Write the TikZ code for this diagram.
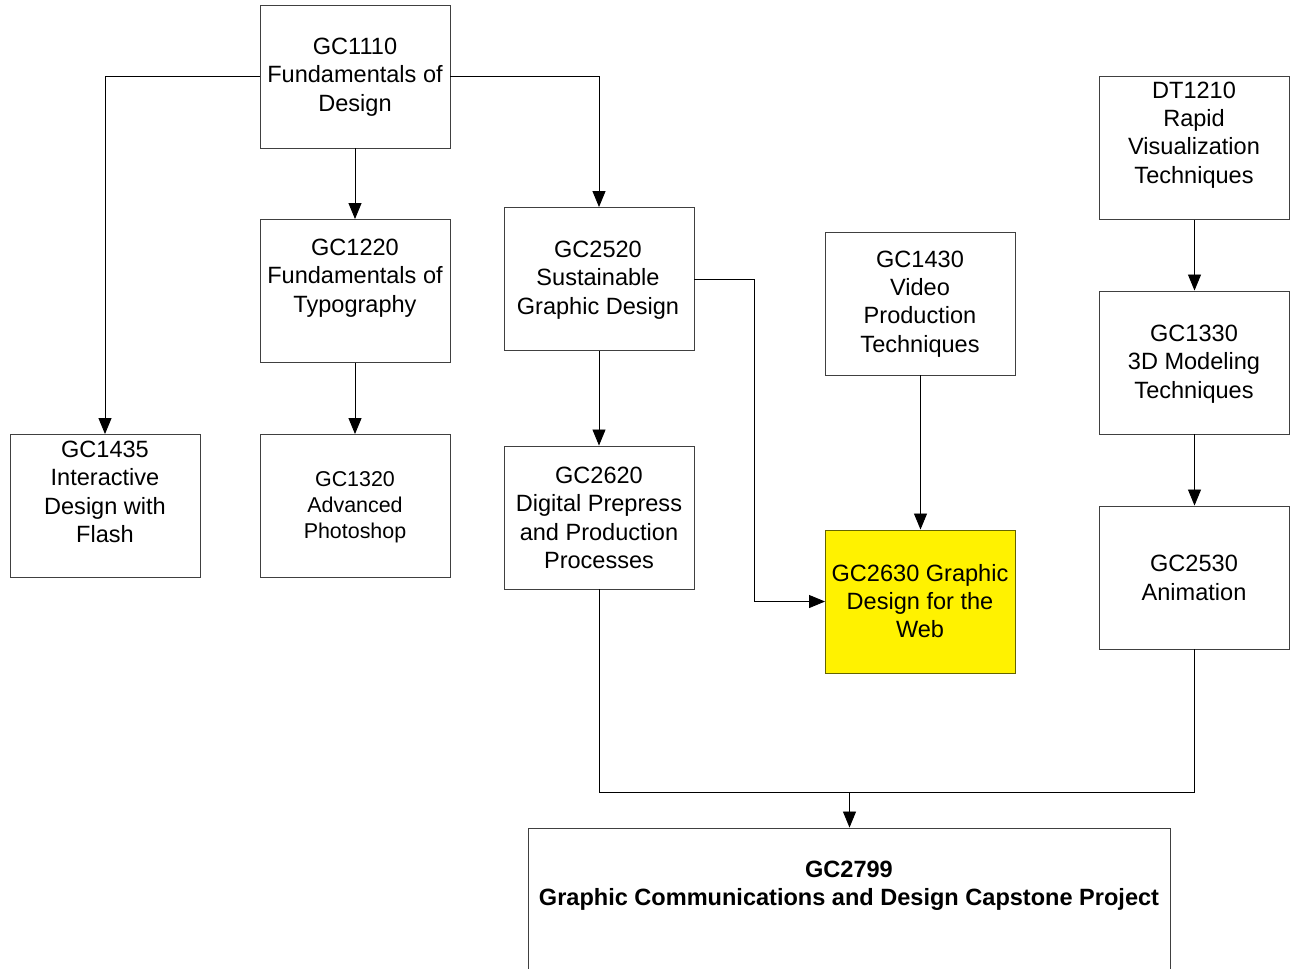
\documentclass[tikz,border=0pt]{standalone}
\usepackage{fontspec}
\setmainfont{Liberation Sans}
\usetikzlibrary{arrows.meta}
\definecolor{boxline}{RGB}{64,64,64}
\definecolor{olive}{RGB}{100,100,0}
\tikzset{
  box/.style={draw=boxline, line width=0.55pt, rectangle, inner sep=0pt,
    minimum width=3.8cm, minimum height=2.86cm},
  lbl/.style={align=center, inner sep=0pt, font=\fontsize{13.4}{16.1}\selectfont},
  smalllbl/.style={align=center, inner sep=0pt, font=\fontsize{12.2}{14.7}\selectfont},
  boldlbl/.style={align=center, inner sep=0pt, font=\fontsize{13.4}{16}\selectfont\bfseries},
  conn/.style={draw=black, line width=0.5pt},
  arr/.style={conn, -{Triangle[length=0.32cm, width=0.26cm]}},
}
\begin{document}
\begin{tikzpicture}[x=0.02cm, y=-0.02cm]
\useasboundingbox (0,0) rectangle (1291,968);
% boxes
\node[box] (g1110) at (355,76.5) {};
\node[box] (g1220) at (355,291) {};
\node[box] (g1320) at (355,506) {};
\node[box] (g1435) at (105,506) {};
\node[box] (g2520) at (599,279) {};
\node[box] (g2620) at (599,517.5) {};
\node[box] (g1430) at (920.5,303.5) {};
\node[box, fill=yellow, draw=olive] (g2630) at (920.5,601.5) {};
\node[box] (d1210) at (1194.5,148) {};
\node[box] (g1330) at (1194.5,362.5) {};
\node[box] (g2530) at (1194.5,577.5) {};
\node[box, minimum width=12.86cm, minimum height=3.6cm] (g2799) at (849.5,918) {};
% texts
\node[lbl] (t1110) at (355,77) {GC1110\\Fundamentals of\\Design};
\node[lbl] (t1220) at (355,278) {GC1220\\Fundamentals of\\Typography};
\node[smalllbl] (t1320) at (355,507) {GC1320\\Advanced\\Photoshop};
\node[lbl] (t1435) at (105,492) {GC1435\\Interactive\\Design with\\Flash};
\node[lbl] (t2520) at (598,280) {GC2520\\Sustainable\\Graphic Design};
\node[lbl] (t2620) at (599,518) {GC2620\\Digital Prepress\\and Production\\Processes};
\node[lbl] (t1430) at (920,304) {GC1430\\Video\\Production\\Techniques};
\node[lbl] (t2630) at (920,601) {GC2630 Graphic\\Design for the\\Web};
\node[lbl] (t1210) at (1194,135) {DT1210\\Rapid\\Visualization\\Techniques};
\node[lbl] (t1330) at (1194,364) {GC1330\\3D Modeling\\Techniques};
\node[lbl] (t2530) at (1194,578) {GC2530\\Animation};
\node[boldlbl] (t2799) at (849,886) {GC2799\\Graphic Communications and Design Capstone Project};
% helper coordinates
\coordinate (k1) at (754,0);
\coordinate (j) at (849.5,792);
% connectors
\draw[arr] (g1110.west) -| (g1435.north);
\draw[arr] (g1110.east) -| (g2520.north);
\draw[arr] (g1110.south) -- (g1220.north);
\draw[arr] (g1220.south) -- (g1320.north);
\draw[arr] (g2520.south) -- (g2620.north);
\draw[arr] (g2520.east) -- (g2520.east -| k1) |- (g2630.west);
\draw[arr] (g1430.south) -- (g2630.north);
\draw[arr] (d1210.south) -- (g1330.north);
\draw[arr] (g1330.south) -- (g2530.north);
\draw[conn] (g2620.south) |- (j) -| (g2530.south);
\draw[arr] (j) -- (g2799.north);
\end{tikzpicture}
\end{document}
